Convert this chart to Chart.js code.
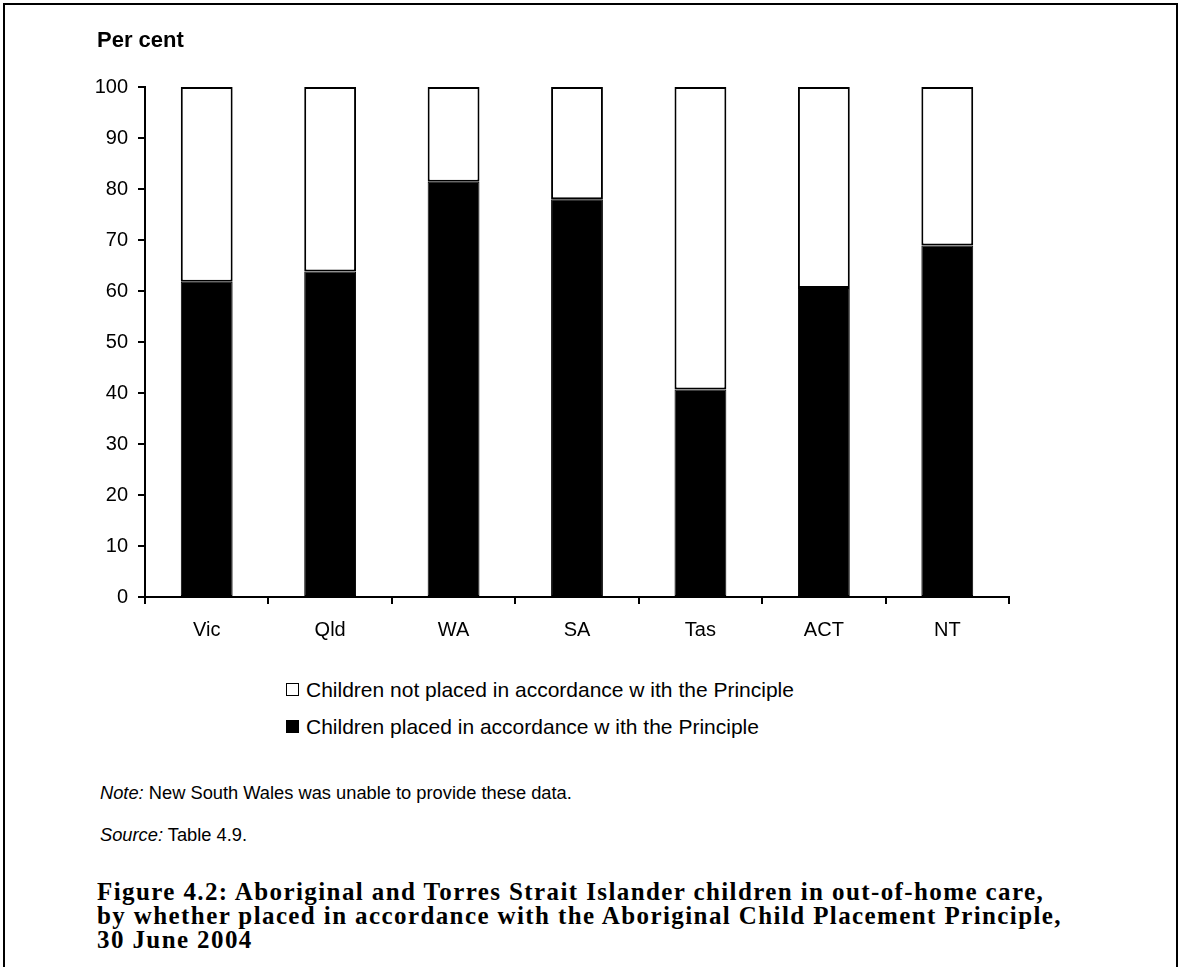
<!DOCTYPE html>
<html>
<head>
<meta charset="utf-8">
<script src="https://cdn.jsdelivr.net/npm/chart.js@4.4.1/dist/chart.umd.min.js"></script>
<style>
  html, body { margin: 0; padding: 0; background: #fff; }
  body { width: 1179px; height: 967px; overflow: hidden; position: relative; font-family: "Liberation Sans", Arial, sans-serif; color: #000; }
  #frame { position: absolute; left: 3px; top: 3px; width: 1175px; height: 1100px; border: 2px solid #000; box-sizing: border-box; pointer-events: none; }
  #chartBox { position: absolute; left: 0; top: 0; width: 1179px; height: 660px; }
  #unit { position: absolute; left: 97px; top: 27px; font-weight: bold; font-size: 22px; }
  #legend { position: absolute; left: 286px; top: 671px; font-size: 21px; }
  #legend .row { display: flex; align-items: center; height: 37px; }
  #legend .sw { width: 13px; height: 13px; border: 1.5px solid #000; box-sizing: border-box; margin-right: 7px; }
  .small { position: absolute; left: 100px; font-size: 18.3px; }
  #caption { position: absolute; left: 97px; top: 880px; font-family: "Liberation Serif", "Times New Roman", serif; font-weight: bold; font-size: 25px; line-height: 24px; letter-spacing: 1.4px; }
</style>
</head>
<body>
<div id="chartBox"><canvas id="c" width="1179" height="660"></canvas></div>
<div id="unit">Per cent</div>
<div id="legend"></div>
<div class="small" style="top:782px"><i>Note:</i> New South Wales was unable to provide these data.</div>
<div class="small" style="top:824px"><i>Source:</i> Table 4.9.</div>
<div id="caption">Figure 4.2: Aboriginal and Torres Strait Islander children in out-of-home care,<br>by whether placed in accordance with the Aboriginal Child Placement Principle,<br>30 June 2004</div>
<div id="frame"></div>
<script>
// States and territories reporting placement data
const categories = ["Vic", "Qld", "WA", "SA", "Tas", "ACT", "NT"];
// Per cent of children placed in accordance with the Principle
const placed = [61.8, 63.8, 81.4, 78.0, 40.7, 60.6, 68.9];
// Per cent of children not placed in accordance with the Principle
const notPlaced = [38.2, 36.2, 18.6, 22.0, 59.3, 39.4, 31.1];
// Value axis ticks
const yTicks = [0, 10, 20, 30, 40, 50, 60, 70, 80, 90, 100];
const seriesNames = [
  "Children placed in accordance w ith the Principle",
  "Children not placed in accordance w ith the Principle"
];

const tickFont = { family: "'Liberation Sans', Arial, sans-serif", size: 20 };

const chart = new Chart(document.getElementById("c"), {
  type: "bar",
  data: {
    labels: categories,
    datasets: [
      { label: seriesNames[0], data: placed, backgroundColor: "#000", borderColor: "#000", borderWidth: 1, borderSkipped: false },
      { label: seriesNames[1], data: notPlaced, backgroundColor: "#fff", borderColor: "#000", borderWidth: 2, borderSkipped: false }
    ]
  },
  options: {
    responsive: false,
    animation: false,
    events: [],
    layout: { padding: { top: 87, right: 170, left: 0, bottom: 0 } },
    datasets: { bar: { barPercentage: 0.42, categoryPercentage: 1.0 } },
    plugins: { legend: { display: false }, tooltip: { enabled: false }, title: { display: false } },
    scales: {
      x: {
        stacked: true,
        offset: true,
        grid: { offset: true, drawOnChartArea: false, drawTicks: true, tickLength: 7, color: "#000", lineWidth: 2 },
        border: { display: true, color: "#000", width: 2 },
        ticks: { color: "#000", font: tickFont, padding: 14, maxRotation: 0 },
        afterFit: s => { s.height = 660 - 597; }
      },
      y: {
        stacked: true,
        min: 0, max: 100,
        afterBuildTicks: s => { s.ticks = yTicks.map(v => ({ value: v })); },
        grid: { drawOnChartArea: false, drawTicks: true, tickLength: 7, color: "#000", lineWidth: 2 },
        border: { display: true, color: "#000", width: 2 },
        ticks: { color: "#000", font: tickFont, padding: 10 },
        afterFit: s => { s.width = 145; }
      }
    }
  }
});

// Legend listed top-down: not placed first, then placed
const legend = document.getElementById("legend");
chart.data.datasets.slice().reverse().forEach(ds => {
  const row = document.createElement("div");
  row.className = "row";
  const sw = document.createElement("span");
  sw.className = "sw";
  sw.style.background = ds.backgroundColor;
  const tx = document.createElement("span");
  tx.textContent = ds.label;
  row.appendChild(sw);
  row.appendChild(tx);
  legend.appendChild(row);
});
</script>
</body>
</html>
